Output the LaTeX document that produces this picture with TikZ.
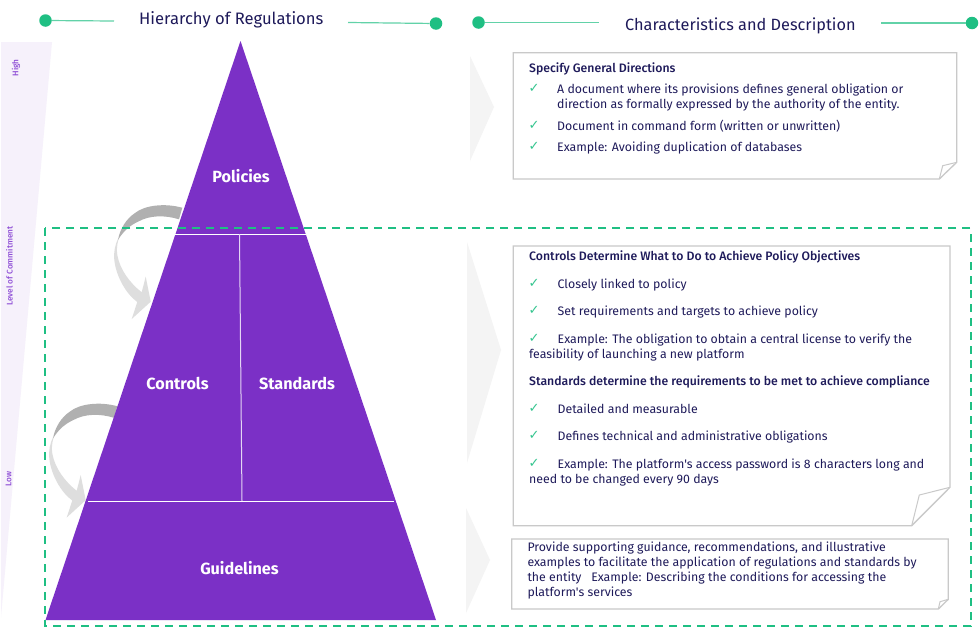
\documentclass[tikz,border=0pt]{standalone}
\usepackage{fontspec}
\setmainfont{Fira Sans}
\newfontfamily\plainf{Fira Sans}
\newfontfamily\medf{Fira Sans Medium}
\newfontfamily\chkfont{DejaVu Sans}
\definecolor{ink}{HTML}{1E1A5A}
\definecolor{grn}{HTML}{1FBF83}
\definecolor{pur}{HTML}{7B30C6}
\definecolor{lav}{HTML}{F6F1FB}
\definecolor{chev}{HTML}{F4F4F4}
\definecolor{boxline}{HTML}{C9C9C9}
\definecolor{lab}{HTML}{8F4FD6}
\tikzset{
  dot/.style={circle,fill=grn,minimum size=12.5pt,inner sep=0pt},
  rule/.style={draw=grn!70,line width=1.2pt},
  title/.style={anchor=base west,inner sep=0pt,text=ink,font=\fontsize{16.6}{20}\selectfont},
  titleb/.style={title,font=\fontsize{16.3}{20}\selectfont},
  body/.style={anchor=base west,inner sep=0pt,text=ink,font=\fontsize{12.33}{14}\plainf},
  head/.style={body,font=\fontsize{12.25}{14}\medf},
  chk/.style={anchor=base west,inner sep=0pt,text=grn!90,font=\fontsize{13}{14}\chkfont},
  tier/.style={inner sep=0pt,text=white,font=\fontsize{16.2}{20}\selectfont\bfseries},
  side/.style={inner sep=0pt,rotate=90,text=lab,font=\fontsize{8.2}{10}\medf},
  note/.style={draw=boxline,line width=1.3pt,line join=miter},
  chevron/.style={fill=chev,draw=none}
}
\newcommand{\curvedarrow}[1]{%
  \begin{scope}[shift={#1}]
    \fill[black!13] (118.3,238) .. controls (115,245) and (113.5,252) .. (114.3,260)
      .. controls (116,276) and (126,294) .. (137.3,302) -- (131.7,319) -- (150.7,301.7) -- (145.7,276.7) -- (141.7,292.3)
      .. controls (130,283) and (120,270) .. (117.3,255) .. controls (116.5,250) and (117,245) .. (118.3,240) -- cycle;
    \fill[black!31] (182.3,207.7) .. controls (165,203) and (145,205) .. (135,213)
      .. controls (126,219) and (120,229) .. (118,240)
      .. controls (124,230) and (131,225) .. (138,221.7)
      .. controls (150,215) and (165,215) .. (179,219.3) -- cycle;
  \end{scope}}
\begin{document}
\begin{tikzpicture}[x=1pt,y=-1pt]
\useasboundingbox (0,0) rectangle (979,627);
\fill[white] (0,0) rectangle (979,627);
% level band
\fill[lav] (1,42) -- (52,42) -- (1,617) -- cycle;
\node[side] (high) at (16,68) {High};
\node[side] (level) at (9.5,266) {Level of Commitment};
\node[side] (low) at (8.5,479) {Low};
% header
\node[dot] (d1) at (45.5,20.5) {};
\coordinate (d1e) at (114,21);
\draw[rule] (d1) -- (d1e);
\node[title] (t1) at (139,24) {Hierarchy of Regulations};
\coordinate (d2s) at (348,22.5);
\node[dot] (d2) at (436,23.5) {};
\draw[rule] (d2s) -- (d2);
\node[dot] (d3) at (478.5,22.5) {};
\coordinate (d3e) at (599,22.5);
\draw[rule] (d3) -- (d3e);
\node[titleb] (t2) at (625,30) {Characteristics and Description};
\coordinate (d4s) at (881,23);
\node[dot] (d4) at (972,23) {};
\draw[rule] (d4s) -- (d4);
% chevrons
\fill[chevron] (470,56) -- (494,107) -- (470,161) -- cycle;
\fill[chevron] (467,242) -- (501,350) -- (467,463) -- cycle;
\fill[chevron] (466,508) -- (490,560) -- (466,613) -- cycle;
% arrows
\curvedarrow{(0,0)}
\curvedarrow{(-65,198.5)}
% pyramid
\fill[pur] (240.5,41) -- (436,620) -- (45.5,620) -- cycle;
\draw[white,line width=0.9pt] (175,234) -- (306,234);
\draw[white!80!pur,line width=1pt] (239.5,234) -- (242,501);
\draw[white,line width=0.9pt] (88,501) -- (394,501);
\node[tier] (policies) at (241,176) {Policies};
\node[tier] (controls) at (177.5,383.5) {Controls};
\node[tier] (standards) at (297,383.5) {Standards};
\node[tier] (guidelines) at (239.5,568) {Guidelines};
% dashed
\draw[grn,line width=2pt,dash pattern=on 8pt off 6pt] (45,228) rectangle (970.5,626);
% box 1
\draw[note] (939.3,179) -- (513.3,179) -- (513.3,52.7) -- (956.7,52.7) -- (956.7,162.3) -- cycle;
\draw[note,line width=1pt] (956.7,162.3) -- (942.7,165.7) -- (939.3,179);
\node[head] (b1h) at (529,72) {Specify General Directions};
\node[chk] (c1) at (528.5,92) {✓};
\node[body] (b1a) at (557,93.3) {A document where its provisions defines general obligation or};
\node[body] (b1b) at (557,108.3) {direction as formally expressed by the authority of the entity.};
\node[chk] (c2) at (528.5,129) {✓};
\node[body] (b1c) at (557,130) {Document in command form (written or unwritten)};
\node[chk] (c3) at (528.5,150) {✓};
\node[body] (b1d) at (557,151.7) {Example: Avoiding duplication of databases};
% box 2
\draw[note] (911.7,525.7) -- (513.3,525.7) -- (513.3,246) -- (950,246) -- (950,487.3) -- cycle;
\draw[note,line width=1pt] (950,487.3) -- (919.3,495) -- (911.7,525.7);
\node[head] (b2h) at (529,260) {Controls Determine What to Do to Achieve Policy Objectives};
\node[chk] (c4) at (528.5,287) {✓};
\node[body] (b2a) at (557.5,288.3) {Closely linked to policy};
\node[chk] (c5) at (528.5,314) {✓};
\node[body] (b2b) at (557.5,315) {Set requirements and targets to achieve policy};
\node[chk] (c6) at (528.5,342) {✓};
\node[body] (b2c) at (557.5,343.3) {Example: The obligation to obtain a central license to verify the};
\node[body] (b2d) at (529,358.3) {feasibility of launching a new platform};
\node[head] (b2i) at (529,385) {Standards determine the requirements to be met to achieve compliance};
\node[chk] (c7) at (528.5,412) {✓};
\node[body] (b2e) at (557.5,413.3) {Detailed and measurable};
\node[chk] (c8) at (528.5,439) {✓};
\node[body] (b2f) at (557.5,440) {Defines technical and administrative obligations};
\node[chk] (c9) at (528.5,467) {✓};
\node[body] (b2g) at (557.5,468.3) {Example: The platform's access password is 8 characters long and};
\node[body] (b2j) at (529,483.3) {need to be changed every 90 days};
% box 3
\draw[note] (938.3,609) -- (511.7,609) -- (511.7,539) -- (948.3,539) -- (948.3,599.3) -- cycle;
\draw[note,line width=1pt] (948.3,599.3) -- (940,601.7) -- (938.3,609);
\node[body] (b3a) at (527.3,551.7) {Provide supporting guidance, recommendations, and illustrative};
\node[body] (b3b) at (527.3,566) {examples to facilitate the application of regulations and standards by};
\node[body] (b3c) at (527.3,581) {the entity\ \ \ Example: Describing the conditions for accessing the};
\node[body] (b3d) at (527.3,596) {platform's services};
\end{tikzpicture}
\end{document}
